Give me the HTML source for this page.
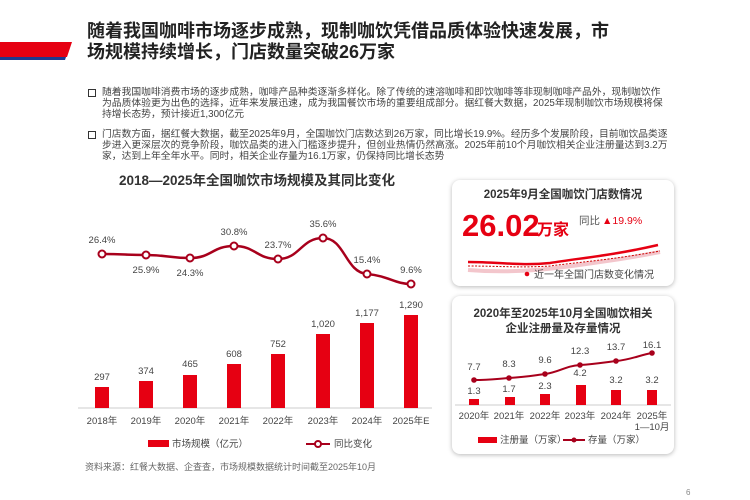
<!DOCTYPE html>
<html><head><meta charset="utf-8"><style>
body{margin:0;width:750px;height:500px;background:#fff;overflow:hidden;position:relative;font-family:"Liberation Sans","Noto Sans CJK SC",sans-serif;color:#333}
.t{position:absolute;white-space:nowrap}
.title{left:87px;top:21px;font-size:18px;font-weight:bold;line-height:20.5px;color:#222}
.p{left:102px;font-size:9.8px;line-height:11px;color:#444;white-space:normal;width:566px}
.sq{position:absolute;left:88px;width:6px;height:6px;border:1px solid #333}
.panel{position:absolute;left:452px;width:222px;border-radius:8px;background:#fff;box-shadow:0 1px 5px rgba(0,0,0,.28)}
</style></head><body>
<svg style="position:absolute;left:0;top:0" width="80" height="70"><polygon points="0,42 72,42 67,57 0,57" fill="#e60012"/><polygon points="0,57 66,57 65,60 0,60" fill="#1d3a8f"/></svg>
<div class="t title">随着我国咖啡市场逐步成熟，现制咖饮凭借品质体验快速发展，市<br>场规模持续增长，门店数量突破26万家</div>
<div class="sq" style="top:89px"></div>
<div class="t p" style="top:87px">随着我国咖啡消费市场的逐步成熟，咖啡产品种类逐渐多样化。除了传统的速溶咖啡和即饮咖啡等非现制咖啡产品外，现制咖饮作为品质体验更为出色的选择，近年来发展迅速，成为我国餐饮市场的重要组成部分。据红餐大数据，2025年现制咖饮市场规模将保持增长态势，预计接近1,300亿元</div>
<div class="sq" style="top:131px"></div>
<div class="t p" style="top:129px">门店数方面，据红餐大数据，截至2025年9月，全国咖饮门店数达到26万家，同比增长19.9%。经历多个发展阶段，目前咖饮品类逐步进入更深层次的竞争阶段，咖饮品类的进入门槛逐步提升，但创业热情仍然高涨。2025年前10个月咖饮相关企业注册量达到3.2万家，达到上年全年水平。同时，相关企业存量为16.1万家，仍保持同比增长态势</div>

<svg style="position:absolute;left:0;top:0" width="750" height="500" font-family="Liberation Sans,Noto Sans CJK SC,sans-serif">
<text x="257" y="185" font-size="13.5" font-weight="bold" fill="#333" text-anchor="middle">2018—2025年全国咖饮市场规模及其同比变化</text>
<line x1="78" y1="408" x2="432" y2="408" stroke="#ccc"/>
<g fill="#e60012">
<rect x="95" y="387" width="14" height="21"/><rect x="139" y="381" width="14" height="27"/><rect x="183" y="375" width="14" height="33"/><rect x="227" y="364" width="14" height="44"/><rect x="271" y="354" width="14" height="54"/><rect x="316" y="334" width="14" height="74"/><rect x="360" y="323" width="14" height="85"/><rect x="404" y="315" width="14" height="93"/></g>
<g font-size="9.5" fill="#444" text-anchor="middle">
<text x="102" y="380">297</text><text x="146" y="374">374</text><text x="190" y="367">465</text><text x="234" y="357">608</text><text x="278" y="347">752</text><text x="323" y="327">1,020</text><text x="367" y="316">1,177</text><text x="411" y="308">1,290</text>
<text x="102" y="424">2018年</text><text x="146" y="424">2019年</text><text x="190" y="424">2020年</text><text x="234" y="424">2021年</text><text x="278" y="424">2022年</text><text x="323" y="424">2023年</text><text x="367" y="424">2024年</text><text x="411" y="424">2025年E</text>
<text x="102" y="243">26.4%</text><text x="146" y="273">25.9%</text><text x="190" y="276">24.3%</text><text x="234" y="235">30.8%</text><text x="278" y="248">23.7%</text><text x="323" y="227">35.6%</text><text x="367" y="263">15.4%</text><text x="411" y="273">9.6%</text></g>
<path d="M102,254 C125,254 125,255 146,255 C168,255 168,258 190,258 C212,258 212,246 234,246 C256,246 256,259 278,259 C300,259 301,238 323,238 C345,238 345,272 367,274 C389,276 395,284 411,284" fill="none" stroke="#a8001c" stroke-width="2.5"/>
<g fill="#fff" stroke="#a8001c" stroke-width="2"><circle cx="102" cy="254" r="3.5"/><circle cx="146" cy="255" r="3.5"/><circle cx="190" cy="258" r="3.5"/><circle cx="234" cy="246" r="3.5"/><circle cx="278" cy="259" r="3.5"/><circle cx="323" cy="238" r="3.5"/><circle cx="367" cy="274" r="3.5"/><circle cx="411" cy="284" r="3.5"/></g>
<rect x="148" y="440" width="21" height="7" fill="#e60012"/><text x="172" y="447" font-size="9.5" fill="#444">市场规模（亿元）</text>
<line x1="306" y1="444" x2="330" y2="444" stroke="#a8001c" stroke-width="2"/><circle cx="318" cy="444" r="3" fill="#fff" stroke="#a8001c" stroke-width="2"/><text x="334" y="447" font-size="9.5" fill="#444">同比变化</text>
<text x="85" y="470" font-size="9" fill="#666">资料来源：红餐大数据、企查查，市场规模数据统计时间截至2025年10月</text>
<text x="686" y="495" font-size="8" fill="#888">6</text>
</svg>

<div class="panel" style="top:180px;height:106px"></div>
<div class="panel" style="top:296px;height:158px"></div>
<svg style="position:absolute;left:0;top:0" width="750" height="500" font-family="Liberation Sans,Noto Sans CJK SC,sans-serif">
<text x="563" y="198" font-size="11.5" font-weight="bold" fill="#333" text-anchor="middle">2025年9月全国咖饮门店数情况</text>
<text x="462" y="236" font-size="31" font-weight="bold" fill="#e60012">26.02</text><text x="537" y="235" font-size="16" font-weight="bold" fill="#e60012">万家</text>
<text x="579" y="224" font-size="10.5" fill="#555">同比</text><text x="602" y="224" font-size="10.5" fill="#e60012">▲19.9%</text>
<path d="M468,270 C520,274 560,268 600,262 C630,258 650,254 660,252" fill="none" stroke="#f3c6cc" stroke-width="4"/>
<path d="M468,262 C500,262 520,266 550,263 C580,258 610,256 658,245" fill="none" stroke="#e60012" stroke-width="2.5"/>
<path d="M468,266 C500,266 520,268 550,266 C580,262 610,260 660,251" fill="none" stroke="#c00" stroke-width="1" stroke-dasharray="2,1.5"/>
<circle cx="527" cy="274" r="2.3" fill="#e60012"/><text x="534" y="278" font-size="10" fill="#444">近一年全国门店数变化情况</text>
<text x="563" y="317" font-size="11.5" font-weight="bold" fill="#333" text-anchor="middle">2020年至2025年10月全国咖饮相关</text>
<text x="563" y="332" font-size="11.5" font-weight="bold" fill="#333" text-anchor="middle">企业注册量及存量情况</text>
<line x1="455" y1="405" x2="671" y2="405" stroke="#ccc"/>
<g fill="#e60012"><rect x="469" y="399" width="10" height="6"/><rect x="505" y="397" width="10" height="8"/><rect x="540" y="394" width="10" height="11"/><rect x="576" y="385" width="10" height="20"/><rect x="611" y="390" width="10" height="15"/><rect x="647" y="390" width="10" height="15"/></g>
<path d="M474,380 C490,380 495,379 509,378 C525,377 530,376 545,374 C560,372 565,366 580,365 C595,364 600,363 616,361 C630,360 640,355 652,353" fill="none" stroke="#a8001c" stroke-width="2"/>
<g fill="#a8001c"><circle cx="474" cy="380" r="2.8"/><circle cx="509" cy="378" r="2.8"/><circle cx="545" cy="374" r="2.8"/><circle cx="580" cy="365" r="2.8"/><circle cx="616" cy="361" r="2.8"/><circle cx="652" cy="353" r="2.8"/></g>
<g font-size="9.5" fill="#444" text-anchor="middle">
<text x="474" y="370">7.7</text><text x="509" y="367">8.3</text><text x="545" y="363">9.6</text><text x="580" y="354">12.3</text><text x="616" y="350">13.7</text><text x="652" y="348">16.1</text>
<text x="474" y="394">1.3</text><text x="509" y="392">1.7</text><text x="545" y="389">2.3</text><text x="580" y="376">4.2</text><text x="616" y="383">3.2</text><text x="652" y="383">3.2</text>
<text x="474" y="419">2020年</text><text x="509" y="419">2021年</text><text x="545" y="419">2022年</text><text x="580" y="419">2023年</text><text x="616" y="419">2024年</text><text x="652" y="419">2025年</text><text x="652" y="430">1—10月</text></g>
<rect x="478" y="437" width="19" height="6" fill="#e60012"/><text x="500" y="443" font-size="9.5" fill="#444">注册量（万家）</text>
<line x1="563" y1="440" x2="585" y2="440" stroke="#a8001c" stroke-width="2"/><circle cx="574" cy="440" r="2.5" fill="#a8001c"/><text x="588" y="443" font-size="9.5" fill="#444">存量（万家）</text>
</svg>
</body></html>
